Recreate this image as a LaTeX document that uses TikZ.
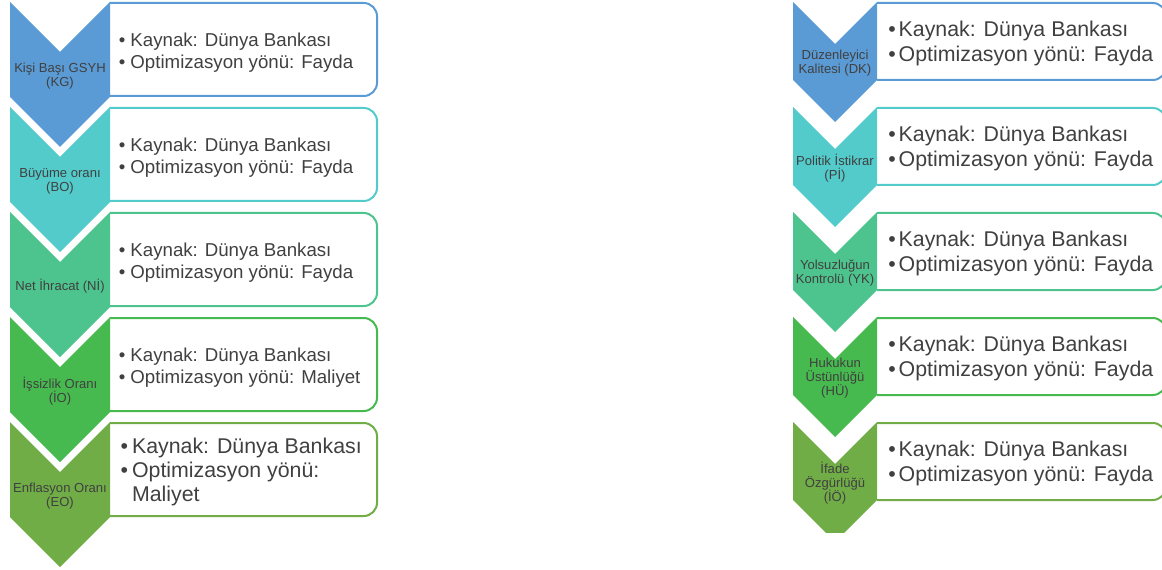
\documentclass[tikz,border=0pt]{standalone}
\usepackage{fontspec}
\setmainfont{Liberation Sans}
\usepackage{tikz}

\definecolor{kgblue}{HTML}{5B9BD5}
\definecolor{boteal}{HTML}{53CBCB}
\definecolor{nimint}{HTML}{4DC48D}
\definecolor{iogreen}{HTML}{47BA4F}
\definecolor{eoolive}{HTML}{70AD47}
\definecolor{txtgray}{HTML}{404040}

\tikzset{
    infobox/.style={draw=#1, line width=1.5pt, rounded corners=10pt},
    chevlabel/.style={text=txtgray, align=center, inner sep=0pt, font=\fontsize{9.8}{10.6}\selectfont},
    infotext/.style={text=txtgray, align=left, anchor=west, inner sep=0pt},
}

\begin{document}
\begin{tikzpicture}[x=0.75pt, y=-0.75pt]
    \useasboundingbox (0,0) rectangle (1162,570);

    % left column
    \foreach \k/\col/\lab in {0/kgblue/{Kişi Başı GSYH\\(KG)}, 1/boteal/{Büyüme oranı\\(BO)},
        2/nimint/{Net İhracat (Nİ)}, 3/iogreen/{İşsizlik Oranı\\(İO)}, 4/eoolive/{Enflasyon Oranı\\(EO)}}{
        \pgfmathsetmacro\t{2+105*\k}
        \draw[infobox=\col] (110,\t+1) -- (377,\t+1) -- (377,\t+94) -- (110,\t+94);
        \fill[\col] (10,\t) -- (60,\t+50) -- (110,\t) -- (110,\t+95) -- (60,\t+145) -- (10,\t+95) -- cycle;
        \node[chevlabel] (lchev\k) at (60,\t+74) {\lab};
    }
    \node[infotext, font=\fontsize{14}{16.5}\selectfont] (lbox0) at (118.5,53) {• Kaynak: Dünya Bankası\\• Optimizasyon yönü: Fayda};
    \node[infotext, font=\fontsize{14}{16.5}\selectfont] (lbox1) at (118.5,158) {• Kaynak: Dünya Bankası\\• Optimizasyon yönü: Fayda};
    \node[infotext, font=\fontsize{14}{16.5}\selectfont] (lbox2) at (118.5,263) {• Kaynak: Dünya Bankası\\• Optimizasyon yönü: Fayda};
    \node[infotext, font=\fontsize{14}{16.5}\selectfont] (lbox3) at (118.5,368) {• Kaynak: Dünya Bankası\\• Optimizasyon yönü: Maliyet};
    \node[infotext, font=\fontsize{16}{18}\selectfont] (lbox4) at (120.3,471.5) {•\hspace{0.19em}Kaynak: Dünya Bankası\\•\hspace{0.19em}Optimizasyon yönü:\\\hphantom{•\hspace{0.19em}}Maliyet};

    % right column
    \begin{scope}
        \clip (780,0) rectangle (1170,532); % last chevron is cut
        \foreach \k/\col/\lab in {0/kgblue/{Düzenleyici\\Kalitesi (DK)}, 1/boteal/{Politik İstikrar\\(Pİ)},
            2/nimint/{Yolsuzluğun\\Kontrolü (YK)}, 3/iogreen/{Hukukun\\Üstünlüğü\\(HÜ)}, 4/eoolive/{İfade\\Özgürlüğü\\(İÖ)}}{
            \pgfmathsetmacro\t{2+105*\k}
            \draw[infobox=\col] (877,\t+1) -- (1166,\t+1) -- (1166,\t+78) -- (877,\t+78);
            \fill[\col] (793,\t) -- (835,\t+42) -- (877,\t) -- (877,\t+78) -- (835,\t+120) -- (793,\t+78) -- cycle;
            \node[chevlabel] (rchev\k) at (835,\t+61) {\lab};
            \node[infotext, font=\fontsize{16}{18.75}\selectfont] (rbox\k) at (888,\t+41) {•\hspace{0.14em}Kaynak: Dünya Bankası\\•\hspace{0.14em}Optimizasyon yönü: Fayda};
        }
    \end{scope}

\end{tikzpicture}
\end{document}
